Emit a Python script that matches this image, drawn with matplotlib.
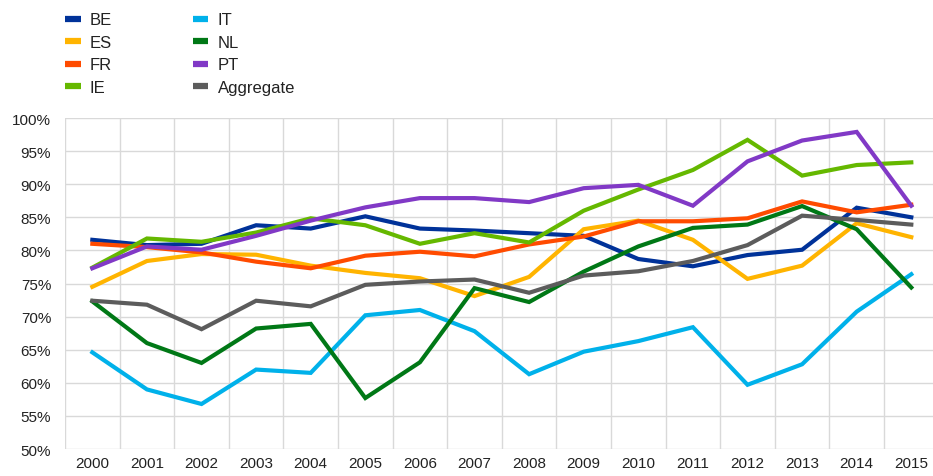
import matplotlib.pyplot as plt
from matplotlib.ticker import FixedLocator, PercentFormatter

plt.rcParams['font.family'] = ['Liberation Sans', 'DejaVu Sans']

years = [str(y) for y in range(2000, 2016)]

BE = [81.6, 80.8, 81.0, 83.8, 83.3, 85.15, 83.3, 83.0, 82.6, 82.2, 78.7, 77.6, 79.3, 80.1, 86.45, 85.0]
ES = [74.5, 78.4, 79.45, 79.35, 77.7, 76.6, 75.8, 73.1, 76.0, 83.2, 84.5, 81.6, 75.7, 77.7, 84.1, 82.0]
FR = [81.0, 80.5, 79.7, 78.3, 77.3, 79.2, 79.8, 79.1, 80.9, 82.1, 84.4, 84.4, 84.85, 87.4, 85.75, 86.9]
IE = [77.4, 81.8, 81.3, 82.7, 84.85, 83.8, 81.0, 82.6, 81.2, 86.0, 89.2, 92.15, 96.7, 91.3, 92.9, 93.3]
IT = [64.6, 59.0, 56.8, 62.0, 61.5, 70.2, 71.0, 67.8, 61.3, 64.7, 66.3, 68.4, 59.7, 62.8, 70.75, 76.4]
NL = [72.3, 66.0, 63.0, 68.2, 68.9, 57.7, 63.1, 74.3, 72.2, 76.8, 80.6, 83.4, 83.9, 86.7, 83.2, 74.4]
PT = [77.3, 80.6, 80.1, 82.2, 84.5, 86.5, 87.9, 87.9, 87.3, 89.4, 89.9, 86.75, 93.45, 96.6, 97.9, 86.75]
Aggregate = [72.4, 71.8, 68.1, 72.4, 71.55, 74.8, 75.3, 75.6, 73.6, 76.2, 76.85, 78.4, 80.8, 85.25, 84.6, 83.9]

series = [
    ('BE', BE, '#003299'),
    ('ES', ES, '#FFB400'),
    ('FR', FR, '#FF4B00'),
    ('IE', IE, '#65B800'),
    ('IT', IT, '#00B1EA'),
    ('NL', NL, '#007816'),
    ('PT', PT, '#8139C6'),
    ('Aggregate', Aggregate, '#5C5C5C'),
]

fig = plt.figure(figsize=(9.33, 4.77), dpi=100)
ax = fig.add_axes([0.0697, 0.0566, 0.9363, 0.6939])

x = list(range(len(years)))
lines = []
for name, vals, col in series:
    ln, = ax.plot(x, vals, color=col, lw=3.0, label=name, solid_joinstyle='miter', zorder=3)
    lines.append(ln)

ax.set_xlim(-0.5, len(years) - 0.5)
ax.set_ylim(50, 100)
ax.set_yticks(range(50, 101, 5))
ax.yaxis.set_major_formatter(PercentFormatter(decimals=0))
ax.set_xticks(x)
ax.set_xticklabels(years)
ax.xaxis.set_minor_locator(FixedLocator([i - 0.5 for i in range(len(years) + 1)]))
ax.grid(True, axis='y', which='major', color='#D9D9D9', lw=1)
ax.grid(True, axis='x', which='minor', color='#D9D9D9', lw=1)
ax.tick_params(which='both', length=0, labelsize=11, colors='#222222')
ax.tick_params(axis='x', pad=5)
ax.tick_params(axis='y', pad=10)
for s in ax.spines.values():
    s.set_visible(False)
ax.set_axisbelow(True)

kw = dict(loc='upper left', frameon=False, fontsize=12, handlelength=0.95,
          handletextpad=0.55, labelspacing=0.45, borderaxespad=0.0, borderpad=0.0)
leg1 = fig.legend(handles=lines[:4], bbox_to_anchor=(0.0695, 0.972), **kw)
leg2 = fig.legend(handles=lines[4:], bbox_to_anchor=(0.2065, 0.972), **kw)
for leg in (leg1, leg2):
    for h in leg.legend_handles:
        h.set_linewidth(4.5)
        h.set_solid_capstyle('butt')
    for t in leg.get_texts():
        t.set_color('#222222')

fig.savefig('out.png', dpi=100)
